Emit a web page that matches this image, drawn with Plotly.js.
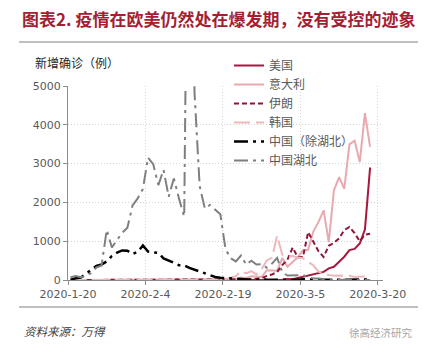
<!DOCTYPE html>
<html>
<head>
<meta charset="utf-8">
<script src="https://cdn.plot.ly/plotly-3.0.1.min.js"></script>
<style>html,body{margin:0;padding:0;background:#fff;}#chart{width:433px;height:361px;}</style>
</head>
<body>
<div id="chart"></div>
<script>
// Daily new confirmed cases, 2020-01-20 .. 2020-03-18 (one value per day)
const startDate = '2020-01-20';
const seriesNames = ['美国', '意大利', '伊朗', '韩国', '中国（除湖北）', '中国湖北'];

const usa = [0,1,0,0,1,0,3,0,0,0,
  0,1,1,2,0,0,1,0,0,0,
  0,0,0,0,1,0,0,0,0,0,
  0,0,0,0,0,0,0,1,0,2,
  6,8,23,20,50,80,110,150,170,210,
  300,340,470,600,770,800,940,1300,2900];

const italy = [0,0,0,0,0,0,0,0,0,0,
  0,2,0,0,0,0,0,1,0,0,
  0,0,0,0,0,0,0,0,0,0,
  0,0,17,62,53,97,93,78,250,238,
  240,566,342,466,587,769,778,1247,1492,1797,
  977,2313,2651,2350,3497,3590,3040,4300,3430];

const iran = [0,0,0,0,0,0,0,0,0,0,
  0,0,0,0,0,0,0,0,0,0,
  0,0,0,0,0,0,0,0,0,0,
  2,3,13,10,15,18,34,44,106,143,
  205,385,523,835,586,591,1234,1000,743,595,
  881,958,1075,1289,1365,1209,1000,1170,1192];

const korea = [1,0,0,0,1,0,1,1,0,0,
  2,7,1,3,0,1,3,4,1,0,
  3,0,0,0,0,0,0,1,1,1,
  20,53,100,229,169,231,144,284,505,571,
  1150,650,600,620,580,560,480,380,220,150,
  130,110,114,110,107,76,74,90,150];

const chinaExHubei = [5,44,62,154,264,365,398,480,619,705,
  762,755,669,726,890,731,707,696,558,509,
  444,381,377,312,267,221,166,115,79,56,
  45,40,31,18,11,9,5,24,9,4,
  3,6,11,4,5,17,25,3,4,2,
  11,7,3,7,16,12,20,12,34];

const hubei = [72,105,69,105,180,323,371,1291,840,1032,
  1220,1347,1921,2103,2345,3156,2987,2447,2841,2147,
  2618,2097,1638,14840,4823,2420,1843,1933,1807,1693,
  800,560,480,630,398,499,401,409,318,423,
  570,196,114,115,134,126,74,41,36,17,
  13,8,5,4,4,4,1,1,0];

const tickDates = ['2020-01-20', '2020-02-04', '2020-02-19', '2020-03-05', '2020-03-20'];
const tickLabels = ['2020-1-20', '2020-2-4', '2020-2-19', '2020-3-5', '2020-3-20'];
const yTicks = [0, 1000, 2000, 3000, 4000, 5000];

// x positions: each day, point placed mid-day
function dayDates(n) {
  const out = [];
  const t0 = Date.parse(startDate + 'T12:00:00Z');
  for (let i = 0; i < n; i++) {
    const d = new Date(t0 + i * 86400000);
    out.push(d.toISOString().slice(0, 10) + ' 12:00');
  }
  return out;
}
const xs = dayDates(usa.length);

const styles = [
  {color: '#A8173E', width: 2, dash: 'solid'},
  {color: '#E8A9AF', width: 2, dash: 'solid'},
  {color: '#8E1538', width: 2, dash: '5px,3px'},
  {color: '#EDB8BC', width: 2, dash: '16px,6px'},
  {color: '#000000', width: 2.5, dash: '14px,5px,3px,5px'},
  {color: '#7F7F7F', width: 2, dash: '14px,5px,3px,5px'}
];
const values = [usa, italy, iran, korea, chinaExHubei, hubei];

const traces = values.map((v, i) => ({
  type: 'scatter', mode: 'lines', name: seriesNames[i],
  x: xs, y: v, line: styles[i], hoverinfo: 'skip'
}));

const L = 68, R = 50, T = 86, B = 81, W = 433, H = 361;
const pw = W - L - R, ph = H - T - B;
const px = v => (v - L) / pw;
const py = v => (H - B - v) / ph;

const axisCommon = {
  showgrid: true, gridcolor: '#d4d4d4', griddash: '1px,2px', gridwidth: 1,
  showline: true, linecolor: '#8c8c8c', linewidth: 1,
  ticks: 'outside', ticklen: 4, tickcolor: '#8c8c8c',
  tickfont: {family: 'DejaVu Sans', size: 11, color: '#595959'},
  zeroline: false, fixedrange: true
};

const layout = {
  width: W, height: H,
  margin: {l: L, r: R, t: T, b: B, pad: 0},
  paper_bgcolor: '#ffffff', plot_bgcolor: '#ffffff',
  xaxis: Object.assign({}, axisCommon, {
    type: 'date', range: ['2020-01-20', '2020-03-21'],
    tickmode: 'array', tickvals: tickDates, ticktext: tickLabels
  }),
  yaxis: Object.assign({}, axisCommon, {
    range: [0, 5000], tickmode: 'array', tickvals: yTicks,
    ticktext: yTicks.map(String)
  }),
  showlegend: true,
  legend: {
    x: px(229), y: py(51), xanchor: 'left', yanchor: 'top',
    bgcolor: 'rgba(0,0,0,0)', borderwidth: 0,
    font: {family: 'Noto Sans CJK SC', size: 12, color: '#595959'},
    tracegroupgap: 0
  },
  shapes: [
    {type: 'line', xref: 'paper', yref: 'paper', x0: px(19), x1: px(418), y0: py(42), y1: py(42),
     line: {color: '#808080', width: 1}},
    {type: 'line', xref: 'paper', yref: 'paper', x0: px(19), x1: px(418), y0: py(307), y1: py(307),
     line: {color: '#808080', width: 1}}
  ],
  annotations: [
    {text: '<b>图表2.</b> 疫情在欧美仍然处在爆发期，没有受控的迹象', xref: 'paper', yref: 'paper',
     x: px(20), y: py(19), xanchor: 'left', yanchor: 'middle', showarrow: false,
     font: {family: 'Noto Sans CJK SC', size: 17, color: '#A31F34', weight: 600}},
    {text: '新增确诊（例）', xref: 'paper', yref: 'paper', x: px(33), y: py(62),
     xanchor: 'left', yanchor: 'middle', showarrow: false,
     font: {family: 'Noto Sans CJK SC', size: 12, color: '#262626'}},
    {text: '资料来源：万得', xref: 'paper', yref: 'paper', x: px(22), y: py(331),
     xanchor: 'left', yanchor: 'middle', showarrow: false,
     font: {family: 'Noto Sans CJK SC', size: 11.5, color: '#404040', style: 'italic'}},
    {text: '徐高经济研究', xref: 'paper', yref: 'paper', x: px(415), y: py(332),
     xanchor: 'right', yanchor: 'middle', showarrow: false,
     font: {family: 'Noto Sans CJK SC', size: 10.5, color: '#a6a6a6'}}
  ]
};

Plotly.newPlot('chart', traces, layout, {staticPlot: true, displayModeBar: false});
</script>
</body>
</html>
